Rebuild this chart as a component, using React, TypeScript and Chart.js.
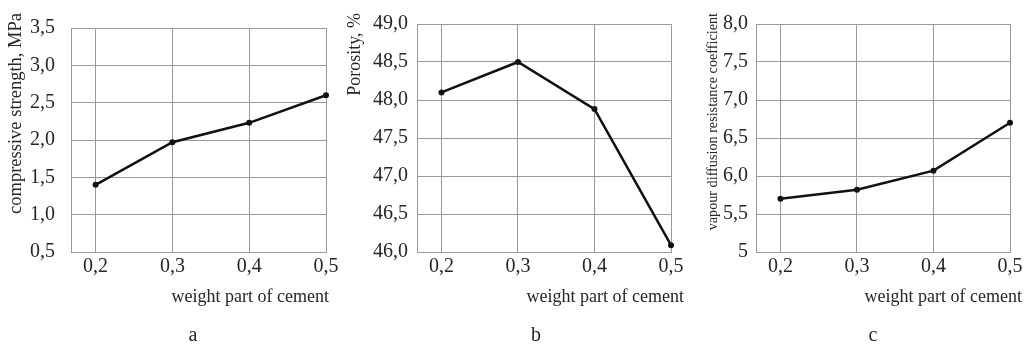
import React, { useEffect, useRef } from "react";
import { Chart, registerables } from "chart.js";

Chart.register(...registerables);

// ---- data ----
const xValues = [0.2, 0.3, 0.4, 0.5];
const xTickLabels = ["0,2", "0,3", "0,4", "0,5"];

const strengthValues = [1.4, 1.97, 2.23, 2.6];
const porosityValues = [48.1, 48.5, 47.88, 46.09];
const vapourValues = [5.7, 5.82, 6.07, 6.7];

const strengthTicks = [0.5, 1.0, 1.5, 2.0, 2.5, 3.0, 3.5];
const strengthTickLabels = ["0,5", "1,0", "1,5", "2,0", "2,5", "3,0", "3,5"];
const porosityTicks = [46.0, 46.5, 47.0, 47.5, 48.0, 48.5, 49.0];
const porosityTickLabels = ["46,0", "46,5", "47,0", "47,5", "48,0", "48,5", "49,0"];
const vapourTicks = [5.0, 5.5, 6.0, 6.5, 7.0, 7.5, 8.0];
const vapourTickLabels = ["5", "5,5", "6,0", "6,5", "7,0", "7,5", "8,0"];

const xAxisTitle = "weight part of cement";
const yAxisTitles = [
  "compressive strength, MPa",
  "Porosity, %",
  "vapour diffusion resistance coefficient",
];
const panelLetters = ["a", "b", "c"];

// ---- layout / style ----
const W = 1026;
const H = 346;
const FONT = "'Liberation Serif', 'Times New Roman', serif";
const TEXT = "#262626";
const GRID = "#9a9a9a";
const X_MIN = 0.168;

const panels = [
  {
    values: strengthValues, ticks: strengthTicks, labels: strengthTickLabels,
    yTitle: yAxisTitles[0], letter: panelLetters[0],
    areaLeft: 71, areaRight: 326, yAxisWidth: 71, yLabelPad: 16,
    yTitleSize: 18.5, yTitleX: 16, xTitleRight: 329, letterX: 193,
  },
  {
    values: porosityValues, ticks: porosityTicks, labels: porosityTickLabels,
    yTitle: yAxisTitles[1], letter: panelLetters[1],
    areaLeft: 417, areaRight: 671, yAxisWidth: 60, yLabelPad: 9,
    yTitleSize: 18, yTitleX: 355, xTitleRight: 684, letterX: 536,
  },
  {
    values: vapourValues, ticks: vapourTicks, labels: vapourTickLabels,
    yTitle: yAxisTitles[2], letter: panelLetters[2],
    areaLeft: 756, areaRight: 1010, yAxisWidth: 60, yLabelPad: 8,
    yTitleSize: 14.2, yTitleX: 713, xTitleRight: 1022, letterX: 873,
  },
];

const panelText = {
  id: "panelText",
  afterDraw(chart: any, _args: any, opts: any) {
    const ctx = chart.ctx;
    ctx.save();
    ctx.fillStyle = TEXT;
    // y-axis title (rotated, ending at the top)
    ctx.save();
    ctx.font = `${opts.yTitleSize}px ${FONT}`;
    ctx.translate(opts.yTitleX, 13);
    ctx.rotate(-Math.PI / 2);
    ctx.textAlign = "right";
    ctx.textBaseline = "middle";
    ctx.fillText(opts.yTitle, 0, 0);
    ctx.restore();
    // x-axis title
    ctx.font = `18px ${FONT}`;
    ctx.textAlign = "right";
    ctx.textBaseline = "middle";
    ctx.fillText(opts.xTitle, opts.xTitleRight, 297);
    // panel letter
    ctx.font = `20px ${FONT}`;
    ctx.textAlign = "center";
    ctx.fillText(opts.letter, opts.letterX, 336);
    ctx.restore();
  },
};

function Panel({ p }: { p: any }) {
  const ref = useRef<HTMLCanvasElement | null>(null);
  useEffect(() => {
    if (!ref.current) return;
    const chart = new Chart(ref.current, {
      type: "line",
      data: {
        datasets: [
          {
            data: xValues.map((x, i) => ({ x, y: p.values[i] })),
            borderColor: "#111",
            borderWidth: 2.5,
            pointRadius: 3,
            pointBackgroundColor: "#111",
            pointBorderWidth: 0,
            tension: 0,
            clip: false,
          } as any,
        ],
      },
      options: {
        animation: false,
        responsive: false,
        maintainAspectRatio: false,
        devicePixelRatio: 1,
        events: [],
        layout: {
          padding: {
            left: p.areaLeft - p.yAxisWidth,
            right: W - p.areaRight,
            top: 24,
            bottom: 0,
          },
        },
        plugins: {
          legend: { display: false },
          tooltip: { enabled: false },
          panelText: {
            yTitle: p.yTitle, yTitleSize: p.yTitleSize, yTitleX: p.yTitleX,
            xTitle: xAxisTitle, xTitleRight: p.xTitleRight,
            letter: p.letter, letterX: p.letterX,
          },
        } as any,
        scales: {
          x: {
            type: "linear",
            min: X_MIN,
            max: 0.5,
            afterBuildTicks: (s: any) => {
              s.ticks = xValues.map((v) => ({ value: v }));
            },
            afterFit: (s: any) => {
              s.height = H - 252;
            },
            ticks: {
              callback: (_v: any, i: number) => xTickLabels[i],
              font: { family: FONT, size: 20 },
              color: TEXT,
              padding: 3,
              maxRotation: 0,
              autoSkip: false,
            },
            grid: { color: GRID, lineWidth: 1, drawTicks: false },
            border: { color: GRID, width: 1 },
          },
          y: {
            type: "linear",
            min: p.ticks[0],
            max: p.ticks[p.ticks.length - 1],
            afterBuildTicks: (s: any) => {
              s.ticks = p.ticks.map((v: number) => ({ value: v }));
            },
            afterFit: (s: any) => {
              s.width = p.yAxisWidth;
            },
            ticks: {
              callback: (_v: any, i: number) => p.labels[i],
              font: { family: FONT, size: 20 },
              color: TEXT,
              padding: p.yLabelPad,
              autoSkip: false,
            },
            grid: { color: GRID, lineWidth: 1, drawTicks: false },
            border: { color: GRID, width: 1 },
          },
        },
      } as any,
      plugins: [panelText],
    });
    return () => chart.destroy();
  }, [p]);
  return (
    <canvas
      ref={ref}
      width={W}
      height={H}
      style={{ position: "absolute", left: 0, top: 0, width: W, height: H }}
    />
  );
}

export default function App() {
  return (
    <div style={{ position: "absolute", left: 0, top: 0, width: W, height: H, background: "#fff" }}>
      {panels.map((p, i) => (
        <Panel key={i} p={p} />
      ))}
    </div>
  );
}
